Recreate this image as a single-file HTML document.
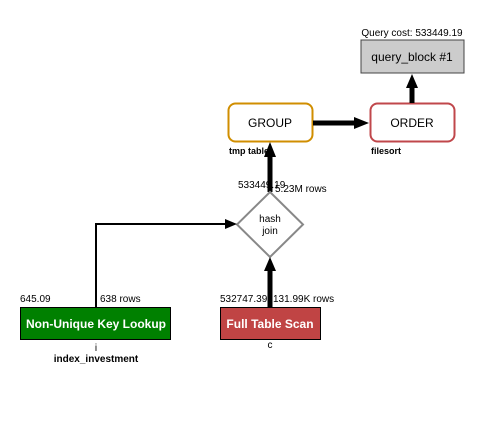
<!DOCTYPE html>
<html><head><meta charset="utf-8"><style>body{margin:0;background:#fff}</style></head><body>
<svg width="494" height="416" viewBox="0 0 494 416" xmlns="http://www.w3.org/2000/svg" font-family="Liberation Sans, Arial, sans-serif">
<rect width="494" height="416" fill="#fff"/>
<text x="412" y="36" font-size="10" text-anchor="middle">Query cost: 533449.19</text>
<rect x="361" y="40" width="103" height="33" fill="#cccccc" stroke="#444" stroke-width="1"/>
<text x="412" y="61" font-size="12" text-anchor="middle">query_block #1</text>
<rect x="228.5" y="103.5" width="84" height="38" rx="7" fill="#fff" stroke="#d08e00" stroke-width="2"/>
<text x="270" y="127" font-size="12" text-anchor="middle">GROUP</text>
<text x="229" y="154" font-size="9" font-weight="bold">tmp table</text>
<rect x="370.5" y="103.5" width="84" height="38" rx="7" fill="#fff" stroke="#c0474b" stroke-width="2"/>
<text x="412" y="127" font-size="12" text-anchor="middle">ORDER</text>
<text x="371" y="154" font-size="9" font-weight="bold">filesort</text>
<line x1="313" y1="123" x2="355" y2="123" stroke="#000" stroke-width="5"/>
<polygon points="369,123 354,117 354,129" fill="#000"/>
<line x1="412" y1="103" x2="412" y2="87" stroke="#000" stroke-width="5"/>
<polygon points="412,74 406,88 418,88" fill="#000"/>
<line x1="270" y1="192" x2="270" y2="156" stroke="#000" stroke-width="5"/>
<polygon points="270,142 264,157 276,157" fill="#000"/>
<polygon points="270,192 303,224.5 270,257 237,224.5" fill="#fff" stroke="#888" stroke-width="2"/>
<text x="270" y="222" font-size="10" text-anchor="middle">hash</text>
<text x="270" y="234" font-size="10" text-anchor="middle">join</text>
<text x="238" y="188" font-size="10">533449.19</text>
<text x="275" y="192" font-size="10">5.23M rows</text>
<polyline points="96,307 96,224 226,224" fill="none" stroke="#000" stroke-width="2"/>
<polygon points="237,224 225,219 225,229" fill="#000"/>
<line x1="270" y1="307" x2="270" y2="270" stroke="#000" stroke-width="5"/>
<polygon points="270,257 264,271 276,271" fill="#000"/>
<text x="20" y="302" font-size="10">645.09</text>
<text x="100" y="302" font-size="10">638 rows</text>
<text x="220" y="302" font-size="10">532747.39</text>
<text x="273" y="302" font-size="10">131.99K rows</text>
<rect x="20.5" y="307.5" width="150" height="32" fill="#008000" stroke="#000" stroke-width="1"/>
<text x="96" y="328" font-size="12" font-weight="bold" fill="#fff" text-anchor="middle">Non-Unique Key Lookup</text>
<rect x="220.5" y="307.5" width="100" height="32" fill="#c04444" stroke="#000" stroke-width="1"/>
<text x="270" y="328" font-size="12" font-weight="bold" fill="#fff" text-anchor="middle">Full Table Scan</text>
<text x="96" y="351" font-size="10" text-anchor="middle">i</text>
<text x="96" y="362" font-size="10" font-weight="bold" text-anchor="middle">index_investment</text>
<text x="270" y="348" font-size="10" text-anchor="middle">c</text>
</svg>
</body></html>
